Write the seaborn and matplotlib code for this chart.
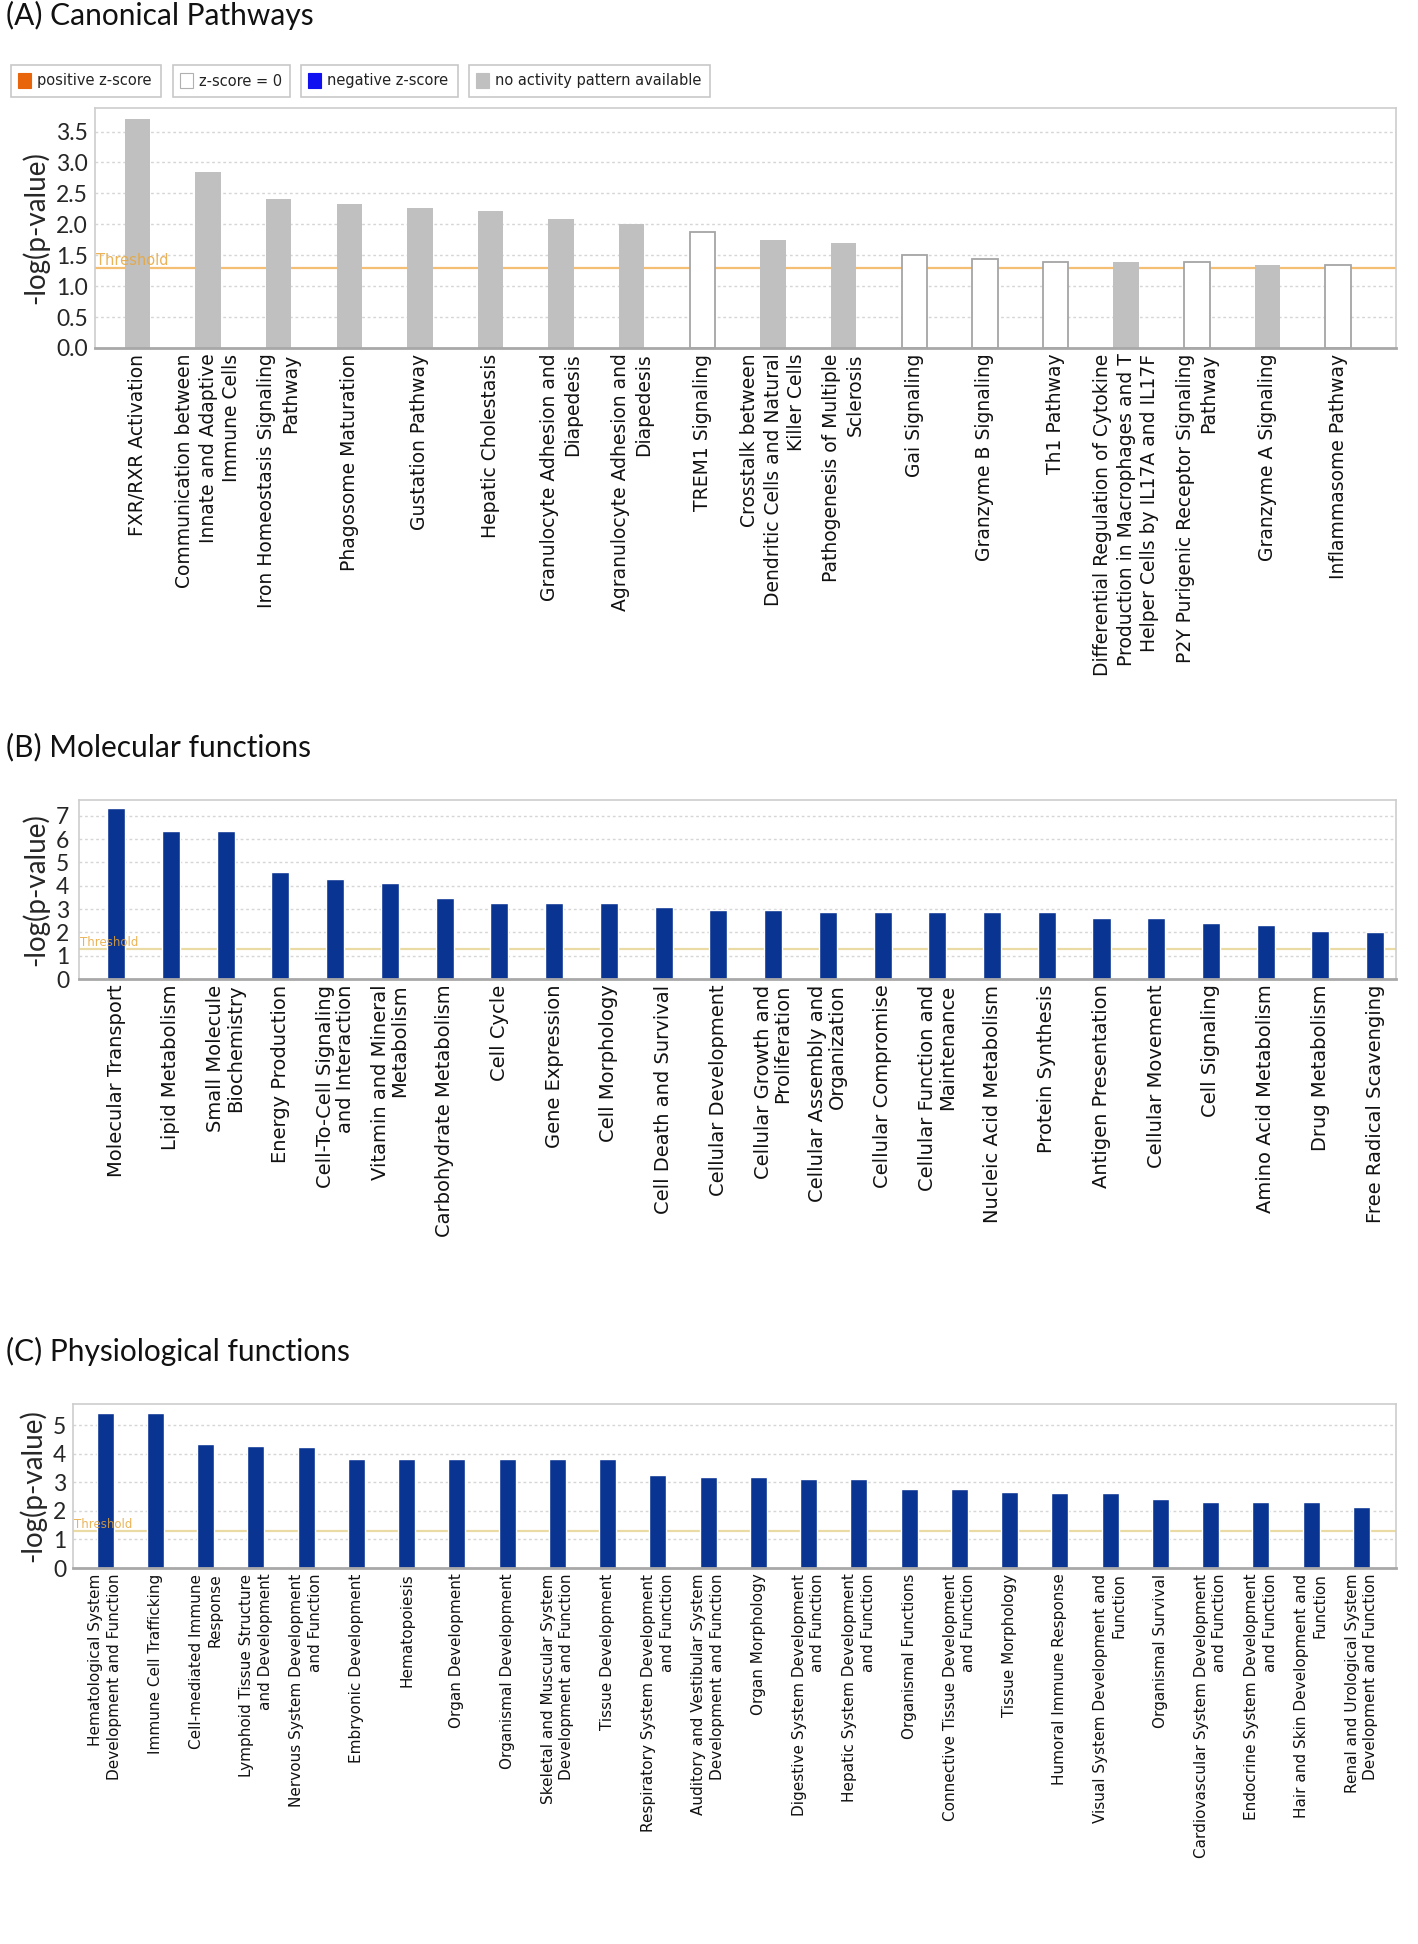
import numpy as np
import pandas as pd
import matplotlib
matplotlib.use("Agg")
import matplotlib.pyplot as plt
import matplotlib.transforms as mtransforms
from matplotlib.patches import Rectangle
import seaborn as sns

# ---------------- data ----------------
pathways = [
    "FXR/RXR Activation",
    "Communication between\nInnate and Adaptive\nImmune Cells",
    "Iron Homeostasis Signaling\nPathway",
    "Phagosome Maturation",
    "Gustation Pathway",
    "Hepatic Cholestasis",
    "Granulocyte Adhesion and\nDiapedesis",
    "Agranulocyte Adhesion and\nDiapedesis",
    "TREM1 Signaling",
    "Crosstalk between\nDendritic Cells and Natural\nKiller Cells",
    "Pathogenesis of Multiple\nSclerosis",
    "Gai Signaling",
    "Granzyme B Signaling",
    "Th1 Pathway",
    "Differential Regulation of Cytokine\nProduction in Macrophages and T\nHelper Cells by IL17A and IL17F",
    "P2Y Purigenic Receptor Signaling\nPathway",
    "Granzyme A Signaling",
    "Inflammasome Pathway",
]
pathway_values = [3.70, 2.85, 2.41, 2.33, 2.27, 2.22, 2.08, 2.00, 1.88,
                  1.75, 1.70, 1.50, 1.44, 1.39, 1.39, 1.39, 1.34, 1.34]
pathway_status = ["none", "none", "none", "none", "none", "none", "none", "none", "zero",
                  "none", "none", "zero", "zero", "zero", "none", "zero", "none", "zero"]

mol_functions = [
    "Molecular Transport", "Lipid Metabolism", "Small Molecule\nBiochemistry",
    "Energy Production", "Cell-To-Cell Signaling\nand Interaction",
    "Vitamin and Mineral\nMetabolism", "Carbohydrate Metabolism", "Cell Cycle",
    "Gene Expression", "Cell Morphology", "Cell Death and Survival",
    "Cellular Development", "Cellular Growth and\nProliferation",
    "Cellular Assembly and\nOrganization", "Cellular Compromise",
    "Cellular Function and\nMaintenance", "Nucleic Acid Metabolism",
    "Protein Synthesis", "Antigen Presentation", "Cellular Movement",
    "Cell Signaling", "Amino Acid Metabolism", "Drug Metabolism",
    "Free Radical Scavenging",
]
mol_values = [7.32, 6.33, 6.33, 4.60, 4.29, 4.11, 3.48, 3.25, 3.25, 3.25, 3.10,
              2.96, 2.96, 2.89, 2.89, 2.89, 2.89, 2.89, 2.60, 2.60, 2.42, 2.31,
              2.05, 2.02]

phys_functions = [
    "Hematological System\nDevelopment and Function", "Immune Cell Trafficking",
    "Cell-mediated Immune\nResponse", "Lymphoid Tissue Structure\nand Development",
    "Nervous System Development\nand Function", "Embryonic Development",
    "Hematopoiesis", "Organ Development", "Organismal Development",
    "Skeletal and Muscular System\nDevelopment and Function", "Tissue Development",
    "Respiratory System Development\nand Function",
    "Auditory and Vestibular System\nDevelopment and Function", "Organ Morphology",
    "Digestive System Development\nand Function",
    "Hepatic System Development\nand Function", "Organismal Functions",
    "Connective Tissue Development\nand Function", "Tissue Morphology",
    "Humoral Immune Response", "Visual System Development and\nFunction",
    "Organismal Survival", "Cardiovascular System Development\nand Function",
    "Endocrine System Development\nand Function",
    "Hair and Skin Development and\nFunction",
    "Renal and Urological System\nDevelopment and Function",
]
phys_values = [5.44, 5.44, 4.34, 4.27, 4.23, 3.82, 3.82, 3.82, 3.82, 3.82, 3.82,
               3.27, 3.18, 3.18, 3.13, 3.13, 2.78, 2.75, 2.67, 2.61, 2.61, 2.43,
               2.32, 2.32, 2.32, 2.14]

threshold = 1.3

legend_labels = ["positive z-score", "z-score = 0", "negative z-score",
                 "no activity pattern available"]
legend_colors = ["#e8650c", "#ffffff", "#1010f0", "#c0c0c0"]

panel_titles = ["(A) Canonical Pathways", "(B) Molecular functions",
                "(C) Physiological functions"]

# ---------------- style ----------------
sns.set_theme(style="white")
plt.rcParams["font.family"] = ["DejaVu Sans"]

W, H = 1418, 1944
fig = plt.figure(figsize=(W / 100, H / 100), dpi=100)
fig.patch.set_facecolor("white")

TITLE_FONT = "Lato"
GRAY = "#c0c0c0"
BLUE = "#0a3492"


def px_axes(left, top, right, bottom):
    return fig.add_axes([left / W, 1 - bottom / H, (right - left) / W, (bottom - top) / H])


def style_axes(ax, ymax, yticks, yfmt, thr_color, thr_text_size, tick_fs, label_fs,
               xlim, ylab_x, ypad, linespacing):
    ax.set_ylim(0, ymax)
    ax.set_xlim(*xlim)
    ax.set_yticks(yticks)
    ax.set_yticklabels([yfmt.format(v) for v in yticks], fontsize=tick_fs,
                       fontfamily=TITLE_FONT)
    ax.grid(False)
    for v in yticks[1:]:
        ax.axhline(v, color="#d6d6d6", lw=1.0, ls=(0, (2, 2)), zorder=0)
    for s in ["top", "left", "right"]:
        ax.spines[s].set_color("#cdcdcd")
        ax.spines[s].set_linewidth(1.2)
        ax.spines[s].set_visible(True)
    ax.spines["bottom"].set_color("#a8a8a8")
    ax.spines["bottom"].set_linewidth(2.0)
    ax.spines["bottom"].set_visible(True)
    ax.tick_params(axis="y", length=0, pad=ypad)
    ax.tick_params(axis="x", length=0, pad=4)
    for lab in ax.get_xticklabels():
        lab.set_rotation(90)
        lab.set_ha("center")
        lab.set_va("top")
        lab.set_multialignment("right")
        lab.set_fontsize(label_fs)
        lab.set_fontfamily("DejaVu Sans")
        lab.set_linespacing(linespacing)
        lab.set_color("#111111")
    ax.set_xlabel("")
    ax.set_ylabel("-log(p-value)", fontsize=20, fontfamily=TITLE_FONT, va="center")
    ax.yaxis.set_label_coords(ylab_x, 0.5)
    ax.axhline(threshold, color=thr_color, lw=1.6, zorder=1)
    trans = mtransforms.blended_transform_factory(ax.transAxes, ax.transData)
    ax.text(0.001, threshold, "Threshold", transform=trans, color="#e8a63a",
            fontsize=thr_text_size, va="bottom", ha="left", alpha=0.85)


# ---------------- Panel A ----------------
axA = px_axes(95, 108, 1396, 348)
dfA = pd.DataFrame({"pathway": pathways, "value": pathway_values, "status": pathway_status})
sns.barplot(data=dfA, x="pathway", y="value", hue="status", dodge=False,
            palette={"none": GRAY, "zero": "#ffffff"}, width=0.36, saturation=1,
            legend=False, ax=axA, zorder=2)
for p in axA.patches:
    fc = p.get_facecolor()
    if fc[0] > 0.95:
        p.set_edgecolor("#a5a5a5")
        p.set_linewidth(1.3)
    else:
        p.set_edgecolor(GRAY)
        p.set_linewidth(0)
style_axes(axA, 3.88, list(np.arange(0, 3.51, 0.5)), "{:.1f}", "#f4bf73", 10.5, 16.5,
           13.5, (-0.6, 17.82), -0.046, 5, 1.3)

# legend boxes (panel A)
box_specs = [(11, 161), (173, 290), (301, 458), (469, 710)]
for (x0, x1), lab, col in zip(box_specs, legend_labels, legend_colors):
    fig.add_artist(Rectangle((x0 / W, 1 - 97 / H), (x1 - x0) / W, 32 / H,
                             transform=fig.transFigure, facecolor="white",
                             edgecolor="#c8c8c8", lw=1.2))
    fig.add_artist(Rectangle(((x0 + 7) / W, 1 - 88 / H), 13 / W, 15 / H,
                             transform=fig.transFigure, facecolor=col,
                             edgecolor="#b0b0b0" if col == "#ffffff" else col, lw=0.8))
    fig.text((x0 + 26) / W, 1 - 81 / H, lab, fontsize=10.5, va="center", ha="left",
             color="#222222", family="DejaVu Sans")

# ---------------- Panel B ----------------
axB = px_axes(79, 800, 1396, 979)
dfB = pd.DataFrame({"function": mol_functions, "value": mol_values})
sns.barplot(data=dfB, x="function", y="value", color=BLUE, width=0.33, saturation=1,
            ax=axB, zorder=2)
style_axes(axB, 7.68, list(range(0, 8)), "{:d}", "#eadba4", 8.5, 16.5, 14.0,
           (-0.68, 23.38), -0.033, 7, 1.05)

# ---------------- Panel C ----------------
axC = px_axes(73, 1404, 1396, 1568)
dfC = pd.DataFrame({"function": phys_functions, "value": phys_values})
sns.barplot(data=dfC, x="function", y="value", color=BLUE, width=0.34, saturation=1,
            ax=axC, zorder=2)
style_axes(axC, 5.74, list(range(0, 6)), "{:d}", "#eadba4", 8.5, 16.5, 11.0,
           (-0.64, 25.69), -0.031, 5, 1.3)

# ---------------- titles ----------------
for ttl, ypx in zip(panel_titles, [15, 747, 1351]):
    fig.text(6 / W, 1 - ypx / H, ttl, fontsize=21.5, family=TITLE_FONT,
             va="center", ha="left", color="#111111")

fig.savefig("out.png", dpi=100, facecolor="white")
